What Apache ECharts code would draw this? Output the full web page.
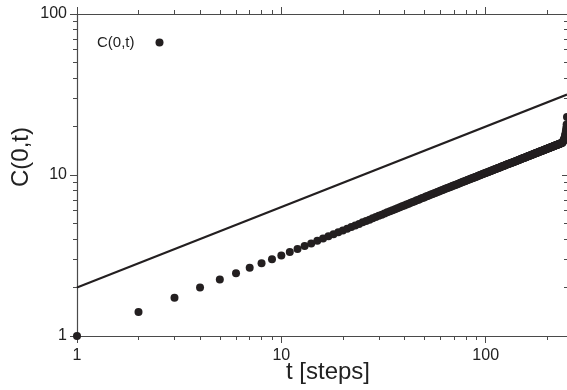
<!DOCTYPE html>
<html>
<head>
<meta charset="utf-8">
<script src="https://cdn.jsdelivr.net/npm/echarts@6/dist/echarts.min.js"></script>
<style>
  html, body { margin: 0; padding: 0; background: #fff; }
  #chart { width: 567px; height: 390px; }
</style>
</head>
<body>
<div id="chart"></div>
<script>
// C(0,t), one value per step t = 1, 2, 3, ...
const cValues = [
  1.00, 1.41, 1.73, 2.00, 2.24, 2.45, 2.65, 2.83, 3.00, 3.16,
  3.32, 3.47, 3.62, 3.76, 3.90, 4.03, 4.16, 4.28, 4.41, 4.52,
  4.64, 4.75, 4.86, 4.97, 5.08, 5.18, 5.28, 5.38, 5.48, 5.58,
  5.67, 5.77, 5.86, 5.95, 6.04, 6.13, 6.22, 6.30, 6.39, 6.47,
  6.55, 6.64, 6.72, 6.80, 6.88, 6.96, 7.03, 7.11, 7.19, 7.26,
  7.34, 7.41, 7.48, 7.56, 7.63, 7.70, 7.77, 7.84, 7.91, 7.98,
  8.04, 8.11, 8.18, 8.24, 8.30, 8.37, 8.43, 8.49, 8.56, 8.62,
  8.68, 8.74, 8.80, 8.86, 8.92, 8.98, 9.04, 9.10, 9.15, 9.21,
  9.27, 9.33, 9.38, 9.44, 9.50, 9.55, 9.61, 9.66, 9.72, 9.77,
  9.83, 9.88, 9.93, 9.99, 10.04, 10.09, 10.14, 10.20, 10.25, 10.30,
  10.35, 10.40, 10.45, 10.50, 10.55, 10.60, 10.65, 10.70, 10.75, 10.80,
  10.85, 10.90, 10.95, 11.00, 11.05, 11.09, 11.14, 11.19, 11.24, 11.28,
  11.33, 11.38, 11.42, 11.47, 11.52, 11.56, 11.61, 11.65, 11.70, 11.74,
  11.79, 11.83, 11.88, 11.92, 11.97, 12.01, 12.06, 12.10, 12.14, 12.19,
  12.23, 12.27, 12.32, 12.36, 12.40, 12.45, 12.49, 12.53, 12.57, 12.61,
  12.66, 12.70, 12.74, 12.78, 12.82, 12.86, 12.91, 12.95, 12.99, 13.03,
  13.07, 13.11, 13.15, 13.19, 13.23, 13.27, 13.31, 13.35, 13.39, 13.43,
  13.47, 13.51, 13.55, 13.59, 13.63, 13.66, 13.70, 13.74, 13.78, 13.82,
  13.86, 13.90, 13.93, 13.97, 14.01, 14.05, 14.09, 14.12, 14.16, 14.20,
  14.23, 14.27, 14.31, 14.35, 14.38, 14.42, 14.46, 14.49, 14.53, 14.57,
  14.60, 14.64, 14.68, 14.71, 14.75, 14.78, 14.82, 14.86, 14.89, 14.93,
  14.96, 15.00, 15.03, 15.07, 15.10, 15.14, 15.17, 15.21, 15.24, 15.28,
  15.31, 15.35, 15.38, 15.42, 15.45, 15.48, 15.52, 15.55, 15.59, 15.62,
  15.65, 15.69, 15.72, 15.76, 15.79, 15.82, 15.86, 15.95, 16.10, 16.30,
  16.50, 16.70, 17.00, 17.30, 17.70, 18.20, 18.80, 19.60, 20.60, 22.90
];
const firstStep = 1;

// reference power law drawn as a straight line
const refLineT = [1, 250];
const refLineC = [2, 31.6];

const xRange = [1, 250];
const yRange = [1, 100];
const majorTicks = [1, 10, 100];
const xMinorTicks = [2, 3, 4, 5, 6, 7, 8, 9, 20, 30, 40, 50, 60, 70, 80, 90, 200];
const yMinorTicks = [2, 3, 4, 5, 6, 7, 8, 9, 20, 30, 40, 50, 60, 70, 80, 90];

const FONT = '"Liberation Sans", Arial, sans-serif';
const INK = '#231f20';
const AXIS = '#4a4a4a';

const points = cValues.map((c, i) => [firstStep + i, c]);
const refLine = refLineT.map((t, i) => [t, refLineC[i]]);

const gridBox = { left: 77, right: 0, top: 14, bottom: 54, outerBoundsMode: 'none' };
const tickStyle = { color: AXIS, width: 1 };
const labelStyle = { show: true, fontFamily: FONT, fontSize: 16, color: '#222' };
const nameStyle = { fontFamily: FONT, fontSize: 24, color: '#222' };

// data axes: log scale, lines and labels only
const logAxis = (range, extra) => Object.assign({
  type: 'log',
  logBase: 10,
  min: range[0],
  max: range[1],
  splitLine: { show: false },
  axisTick: { show: false },
  axisLine: { show: true, onZero: false, lineStyle: { color: AXIS, width: 1.2 } },
  axisLabel: { show: false }
}, extra);

// tick-only overlay axes (one per side per grid), laid out in decades
const tickAxis = (range, gridIndex, position, ticks, length, inside) => ({
  type: 'value',
  gridIndex,
  position,
  min: Math.log10(range[0]),
  max: Math.log10(range[1]),
  splitLine: { show: false },
  axisLine: { show: false, onZero: false },
  axisLabel: { show: false },
  axisTick: {
    show: true,
    inside: !!inside,
    length,
    customValues: ticks.map(v => Math.log10(v)),
    lineStyle: tickStyle
  }
});

const chart = echarts.init(document.getElementById('chart'), null, { renderer: 'canvas' });

chart.setOption({
  animation: false,
  backgroundColor: '#fff',
  grid: [gridBox, gridBox, gridBox],
  legend: {
    data: [{ name: 'C(0,t)', icon: 'circle' }],
    left: 97,
    top: 35,
    align: 'right',
    padding: 0,
    itemWidth: 40,
    itemHeight: 8,
    textStyle: { fontFamily: FONT, fontSize: 15, color: '#222' }
  },
  xAxis: [
    logAxis(xRange, {
      gridIndex: 0, position: 'bottom',
      axisLabel: Object.assign({ margin: 12, customValues: majorTicks }, labelStyle),
      name: 't [steps]',
      nameLocation: 'middle',
      nameGap: 24,
      nameMoveOverlap: false,
      nameTextStyle: Object.assign({ padding: [0, 0, 0, 12] }, nameStyle)
    }),
    logAxis(xRange, { gridIndex: 0, position: 'top' }),
    tickAxis(xRange, 1, 'bottom', majorTicks, 7),
    tickAxis(xRange, 1, 'top', majorTicks, 7),
    tickAxis(xRange, 2, 'bottom', xMinorTicks, 4),
    tickAxis(xRange, 2, 'top', xMinorTicks, 4)
  ],
  yAxis: [
    logAxis(yRange, {
      gridIndex: 0, position: 'left',
      axisLabel: Object.assign({ margin: 10, customValues: majorTicks }, labelStyle),
      name: 'C(0,t)',
      nameLocation: 'middle',
      nameGap: 44,
      nameMoveOverlap: false,
      nameTextStyle: Object.assign({ padding: [0, 0, 0, 36] }, nameStyle)
    }),
    logAxis(yRange, { gridIndex: 0, position: 'right', axisLine: { show: false, onZero: false } }),
    tickAxis(yRange, 1, 'left', majorTicks, 7),
    tickAxis(yRange, 1, 'right', majorTicks, 5, true),
    tickAxis(yRange, 2, 'left', yMinorTicks, 4),
    tickAxis(yRange, 2, 'right', yMinorTicks, 3, true)
  ],
  series: [
    {
      name: 'power law',
      type: 'line',
      xAxisIndex: 0,
      yAxisIndex: 0,
      data: refLine,
      showSymbol: false,
      clip: false,
      lineStyle: { color: INK, width: 2 }
    },
    {
      name: 'C(0,t)',
      type: 'scatter',
      xAxisIndex: 0,
      yAxisIndex: 0,
      data: points,
      symbol: 'circle',
      symbolSize: 8,
      clip: false,
      itemStyle: { color: INK, opacity: 1 }
    }
  ]
});
</script>
</body>
</html>
